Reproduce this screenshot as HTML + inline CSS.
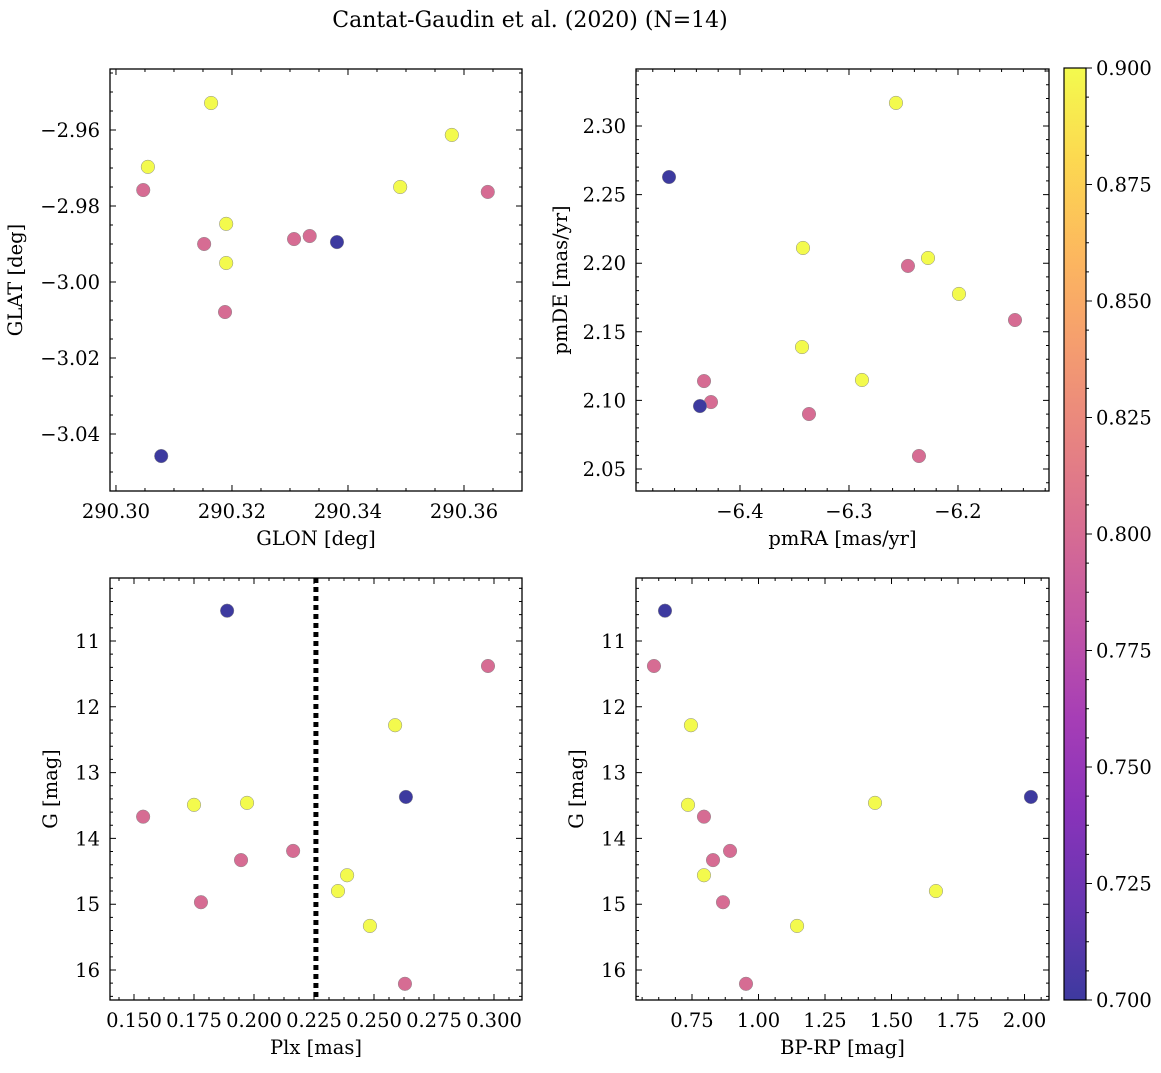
<!DOCTYPE html>
<html><head><meta charset="utf-8"><style>
body{margin:0;background:#fff;}
svg text{font-family:"DejaVu Serif","Liberation Serif",serif;fill:#000;}
</style></head><body>
<svg id="fig" width="1161" height="1068" viewBox="0 0 1161 1068" xmlns="http://www.w3.org/2000/svg">
<defs>
<linearGradient id="plasma" x1="0" y1="1" x2="0" y2="0">
<stop offset="0" stop-color="#0d0887"/><stop offset="0.1" stop-color="#41049d"/><stop offset="0.2" stop-color="#6a00a8"/><stop offset="0.3" stop-color="#8f0da4"/><stop offset="0.4" stop-color="#b12a90"/><stop offset="0.5" stop-color="#cc4778"/><stop offset="0.6" stop-color="#e16462"/><stop offset="0.7" stop-color="#f2844b"/><stop offset="0.8" stop-color="#fca636"/><stop offset="0.9" stop-color="#fcce25"/><stop offset="1" stop-color="#f0f921"/>
</linearGradient>
</defs>
<text x="530" y="27" font-size="22" text-anchor="middle">Cantat-Gaudin et al. (2020) (N=14)</text>
</svg>
<script>
// Panel 1: GLON vs GLAT
const glonTL = [290.3164,290.3055,290.3579,290.3490,290.3190,290.3190,290.3047,290.3641,290.3152,290.3307,290.3334,290.3188,290.3381,290.3078];
const glatTL = [-2.9529,-2.9697,-2.9613,-2.9750,-2.9847,-2.9950,-2.9758,-2.9763,-2.9900,-2.9887,-2.9879,-3.0079,-2.9895,-3.0458];
const probTL = [0.9,0.9,0.9,0.9,0.9,0.9,0.8,0.8,0.8,0.8,0.8,0.8,0.7,0.7];
// Panel 2: pmRA vs pmDE
const pmraTR = [-6.2569,-6.4651,-6.3422,-6.2459,-6.2275,-6.1991,-6.1477,-6.3431,-6.4330,-6.2881,-6.4266,-6.4367,-6.3367,-6.2358];
const pmdeTR = [2.3168,2.2628,2.2111,2.1980,2.2038,2.1776,2.1586,2.1389,2.1141,2.1149,2.0988,2.0959,2.0901,2.0595];
const probTR = [0.9,0.7,0.9,0.8,0.9,0.9,0.8,0.9,0.8,0.9,0.8,0.7,0.8,0.8];
// Panel 3: Plx vs G
const plxBL = [0.1888,0.2975,0.2588,0.2633,0.1971,0.1750,0.1538,0.2163,0.1946,0.2388,0.2350,0.1779,0.2483,0.2629];
const gBL = [10.54,11.38,12.28,13.37,13.46,13.49,13.67,14.19,14.33,14.56,14.80,14.97,15.33,16.21];
const probBL = [0.7,0.8,0.9,0.7,0.9,0.9,0.8,0.8,0.8,0.9,0.9,0.8,0.9,0.8];
const plxCut = [0.2258];
// Panel 4: BP-RP vs G
const bprpBR = [0.6485,0.607,0.746,2.024,1.438,0.735,0.795,0.893,0.829,0.795,1.667,0.8665,1.145,0.953];
const gBR = [10.54,11.38,12.28,13.37,13.46,13.49,13.67,14.19,14.33,14.56,14.80,14.97,15.33,16.21];
const probBR = [0.7,0.8,0.9,0.7,0.9,0.9,0.8,0.8,0.8,0.9,0.9,0.8,0.9,0.8];
// Colorbar ticks
const cbTicks = [0.700,0.725,0.750,0.775,0.800,0.825,0.850,0.875,0.900];

const NS="http://www.w3.org/2000/svg";
const svg=document.getElementById('fig');
const FS=19.5;
function mk(tag,attrs,parent){const e=document.createElementNS(NS,tag);for(const k in attrs)e.setAttribute(k,attrs[k]);(parent||svg).appendChild(e);return e;}
function color(p){const t=Math.max(0,Math.min(1,(p-0.7)/0.2));
 if(t>0.95)return '#f3fa4d'; if(t>0.3)return '#d66c93'; return '#3d3a9f';}
function fmt(v,d){const s=Math.abs(v).toFixed(d);return (v<-1e-12?'\u2212':'')+s;}

function panel(o){
 const g=mk('g',{});
 
 
 const X=v=>o.x0+(v-o.xmin)/(o.xmax-o.xmin)*(o.x1-o.x0);
 const Y=o.yinv? v=>o.y0+(v-o.ymin)/(o.ymax-o.ymin)*(o.y1-o.y0) : v=>o.y1-(v-o.ymin)/(o.ymax-o.ymin)*(o.y1-o.y0);
 const lines=[];
 function ticksX(step,len,labels){const s=Math.ceil((o.xmin+1e-9)/step);for(let i=s;i*step<=o.xmax+1e-9;i++){const v=i*step,px=X(v);
   lines.push([px,o.y1,px,o.y1-len],[px,o.y0,px,o.y0+len]);
   if(labels){const t=mk('text',{x:px,y:o.y1+27,'font-size':FS,'text-anchor':'middle'},g);t.textContent=fmt(v,o.xd);
    }}}
 function ticksY(step,len,labels){const s=Math.ceil((o.ymin+1e-9)/step);for(let i=s;i*step<=o.ymax+1e-9;i++){const v=i*step,py=Y(v);
   lines.push([o.x0,py,o.x0+len,py],[o.x1,py,o.x1-len,py]);
   if(labels){const t=mk('text',{x:o.x0-10,y:py+7,'font-size':FS,'text-anchor':'end'},g);t.textContent=fmt(v,o.yd);
    }}}
 ticksX(o.xmaj,6,true);ticksX(o.xmin_,3,false);ticksY(o.ymaj,6,true);ticksY(o.ymin_,3,false);
 let d='';lines.forEach(l=>d+=`M${l[0]},${l[1]}L${l[2]},${l[3]}`);
 mk('path',{d:d,stroke:'#000','stroke-width':1},g);
 if(o.vline!==undefined){const l=mk('line',{x1:X(o.vline),x2:X(o.vline),y1:o.y0,y2:o.y1,stroke:'#000','stroke-width':5,'stroke-dasharray':'5,4'},g);
  }
 for(let i=0;i<o.xs.length;i++){const c=mk('circle',{cx:X(o.xs[i]),cy:Y(o.ys[i]),r:6.8,fill:color(o.ps[i]),stroke:'#8a8a8a','stroke-width':0.5},g);
  }
 mk('rect',{x:o.x0,y:o.y0,width:o.x1-o.x0,height:o.y1-o.y0,fill:'none',stroke:'#000','stroke-width':1.3},g);
 const xl=mk('text',{x:(o.x0+o.x1)/2,y:o.y1+54,'font-size':FS,'text-anchor':'middle'},g);xl.textContent=o.xlabel;
 
 const cy=(o.y0+o.y1)/2;const yl=mk('text',{x:o.ylx,y:cy,'font-size':FS,'text-anchor':'middle',transform:`rotate(-90 ${o.ylx} ${cy})`},g);yl.textContent=o.ylabel;
 
}
panel({name:'glon-glat-panel',x0:110,x1:522,y0:69,y1:491,xmin:290.29897,xmax:290.37,ymin:-3.055,ymax:-2.94395,xmaj:0.02,xmin_:0.005,ymaj:0.02,ymin_:0.005,xd:2,yd:2,xs:glonTL,ys:glatTL,ps:probTL,xlabel:'GLON [deg]',ylabel:'GLAT [deg]',ylx:22});
panel({name:'proper-motion-panel',x0:636,x1:1049,y0:69,y1:491,xmin:-6.4954,xmax:-6.1165,ymin:2.034,ymax:2.3415,xmaj:0.1,xmin_:0.02,ymaj:0.05,ymin_:0.01,xd:1,yd:2,xs:pmraTR,ys:pmdeTR,ps:probTR,xlabel:'pmRA [mas/yr]',ylabel:'pmDE [mas/yr]',ylx:567});
panel({name:'parallax-mag-panel',x0:110,x1:522,y0:578,y1:1000,xmin:0.14,xmax:0.31167,ymin:10.0426,ymax:16.456,yinv:true,xmaj:0.025,xmin_:0.00625,ymaj:1,ymin_:0.2,xd:3,yd:0,xs:plxBL,ys:gBL,ps:probBL,xlabel:'Plx [mas]',ylabel:'G [mag]',ylx:57,vline:plxCut[0]});
panel({name:'cmd-panel',x0:636,x1:1049,y0:578,y1:1000,xmin:0.5395,xmax:2.092,ymin:10.0426,ymax:16.456,yinv:true,xmaj:0.25,xmin_:0.0625,ymaj:1,ymin_:0.2,xd:2,yd:0,xs:bprpBR,ys:gBR,ps:probBR,xlabel:'BP-RP [mag]',ylabel:'G [mag]',ylx:583});

const cb=mk('g',{});


const cx0=1064,cx1=1086,cy0=68,cy1=1000;
mk('rect',{x:cx0,y:cy0,width:cx1-cx0,height:cy1-cy0,fill:'url(#plasma)','fill-opacity':0.8,stroke:'#000','stroke-width':1.2},cb);
const CY=v=>cy1-(v-0.7)/0.2*(cy1-cy0);
let cd='';
cbTicks.forEach(v=>{const py=CY(v);cd+=`M${cx1},${py}L${cx1+6},${py}`;
 const t=mk('text',{x:cx1+10,y:py+7,'font-size':FS},cb);t.textContent=v.toFixed(3);
 });
for(let v=0.7;v<=0.9001;v+=0.00625){const py=CY(v);cd+=`M${cx1},${py}L${cx1+3},${py}`;}
mk('path',{d:cd,stroke:'#000','stroke-width':1},cb);
</script>
</body></html>
